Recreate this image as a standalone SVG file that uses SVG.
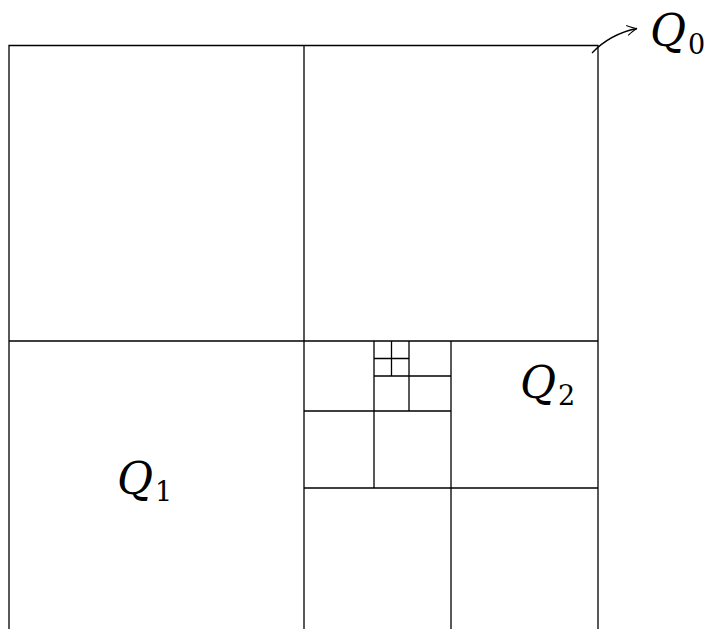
<svg xmlns="http://www.w3.org/2000/svg" width="709" height="629" viewBox="0 0 709 629">
<style>
.l{stroke:#000;stroke-width:1.3;fill:none}
.q{font-family:"DejaVu Serif",serif;font-style:italic;fill:#000;font-size:44px}
.s{font-family:"DejaVu Serif",serif;fill:#000;font-size:27px}
</style>
<defs>
<marker id="to" viewBox="-12 -7 14 14" markerWidth="14" markerHeight="14" refX="0" refY="0" orient="auto" markerUnits="userSpaceOnUse">
<path d="M-10,-5 C-6,-2.5 -2.5,-0.6 0,0 C-2.5,0.6 -6,2.5 -10,5" fill="none" stroke="#000" stroke-width="1.1"/>
</marker>
</defs>
<rect width="709" height="629" fill="#fff"/>
<g id="Q0">
<path class="l" d="M9,629 V45.5 H598 V629"/>
<text class="q" x="650" y="46">Q</text>
<text class="s" x="688" y="54">0</text>
</g>
<g id="grid">
<path class="l" d="M304,45.5 V629 M9,341 H598"/>
<path class="l" d="M451,341 V629 M304,488 H598"/>
<path class="l" d="M374,341 V488 M304,411 H451"/>
<path class="l" d="M409,341 V411 M374,376 H451"/>
<path class="l" d="M391.5,341 V376 M374,358.5 H409"/>
</g>
<g id="Q1">
<text class="q" x="117" y="494">Q</text>
<text class="s" x="155" y="501">1</text>
</g>
<g id="Q2">
<text class="q" x="520" y="398">Q</text>
<text class="s" x="558" y="405">2</text>
</g>
<g id="connectors">
<path class="l" d="M592,53 Q610,34 637,28.5" stroke-width="1" marker-end="url(#to)"/>
</g>
</svg>
